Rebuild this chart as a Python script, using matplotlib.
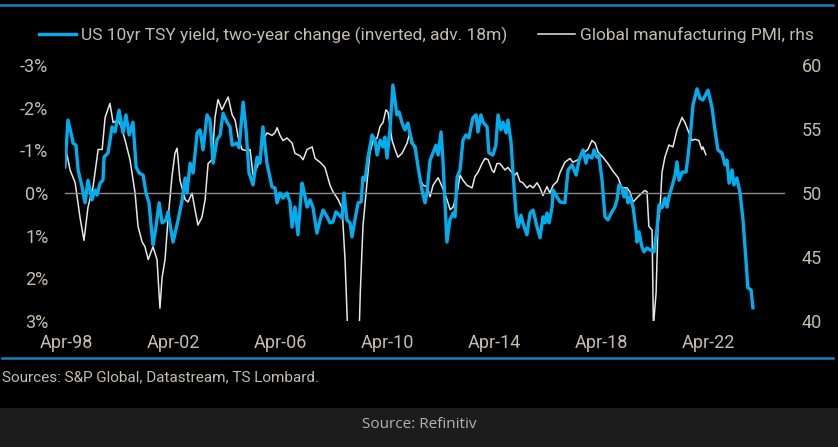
import matplotlib
matplotlib.use("Agg")
import matplotlib.pyplot as plt
from matplotlib.lines import Line2D
import numpy as np

# US 10yr yield, two-year change (inverted, advanced 18m), % -- decimal year
yld_t = [1998.21, 1998.32, 1998.47, 1998.51, 1998.62, 1998.70, 1998.85, 1998.96,
         1999.07, 1999.22, 1999.33, 1999.41, 1999.52, 1999.63, 1999.67, 1999.82,
         1999.97, 2000.08, 2000.23, 2000.38, 2000.49, 2000.61, 2000.75, 2000.87,
         2000.98, 2001.13, 2001.24, 2001.35, 2001.50, 2001.61, 2001.73, 2001.84,
         2001.99, 2002.06, 2002.25, 2002.44, 2002.59, 2002.70, 2002.77, 2002.89,
         2003.00, 2003.15, 2003.26, 2003.37, 2003.52, 2003.63, 2003.75, 2003.89,
         2004.01, 2004.12, 2004.27, 2004.38, 2004.46, 2004.64, 2004.72, 2004.87,
         2004.98, 2005.09, 2005.24, 2005.39, 2005.50, 2005.61, 2005.76, 2005.95,
         2006.06, 2006.14, 2006.25, 2006.36, 2006.51, 2006.62, 2006.70, 2006.81,
         2006.92, 2007.07, 2007.11, 2007.26, 2007.37, 2007.48, 2007.63, 2007.75,
         2007.86, 2008.01, 2008.12, 2008.23, 2008.34, 2008.46, 2008.57, 2008.64,
         2008.75, 2008.87, 2008.94, 2009.05, 2009.17, 2009.28, 2009.35, 2009.43,
         2009.54, 2009.69, 2009.80, 2009.88, 2009.99, 2010.10, 2010.17, 2010.25,
         2010.36, 2010.47, 2010.62, 2010.70, 2010.81, 2010.92, 2011.03, 2011.18,
         2011.30, 2011.41, 2011.56, 2011.67, 2011.74, 2011.86, 2011.97, 2012.08,
         2012.16, 2012.27, 2012.34, 2012.42, 2012.49, 2012.60, 2012.72, 2012.79,
         2012.87, 2012.98, 2013.09, 2013.20, 2013.31, 2013.46, 2013.58, 2013.65,
         2013.76, 2013.84, 2013.99, 2014.06, 2014.21, 2014.32, 2014.40, 2014.51,
         2014.59, 2014.70, 2014.77, 2014.89, 2014.96, 2015.07, 2015.15, 2015.26,
         2015.33, 2015.48, 2015.60, 2015.71, 2015.86, 2015.97, 2016.08, 2016.16,
         2016.23, 2016.31, 2016.42, 2016.46, 2016.60, 2016.72, 2016.90, 2017.02,
         2017.17, 2017.32, 2017.43, 2017.58, 2017.69, 2017.76, 2017.91, 2017.99,
         2018.10, 2018.17, 2018.29, 2018.40, 2018.51, 2018.66, 2018.77, 2018.85,
         2018.92, 2019.03, 2019.11, 2019.18, 2019.26, 2019.33, 2019.45, 2019.56,
         2019.60, 2019.67, 2019.78, 2019.86, 2019.97, 2020.08, 2020.23, 2020.34,
         2020.42, 2020.53, 2020.64, 2020.72, 2020.79, 2020.94, 2021.02, 2021.09,
         2021.17, 2021.28, 2021.43, 2021.50, 2021.62, 2021.69, 2021.84, 2021.95,
         2022.06, 2022.25, 2022.40, 2022.51, 2022.62, 2022.77, 2022.89, 2022.96,
         2023.04, 2023.15, 2023.22, 2023.33, 2023.45, 2023.56, 2023.67, 2023.74,
         2023.86, 2023.93]
yld_v = [-0.61, -1.71, -1.31, -1.17, -1.12, -0.54, -0.14, 0.23,
         -0.30, 0.16, -0.07, 0.05, -0.23, -0.30, -0.84, -0.94,
         -1.55, -1.43, -1.94, -1.41, -1.83, -1.36, -1.66, -0.61,
         -0.47, -0.42, 0.00, 0.23, 1.22, 0.80, 0.23, 0.70,
         0.63, 0.44, 1.15, 0.63, 0.16, -0.35, 0.00, -0.70,
         -0.47, -1.41, -1.48, -1.01, -1.83, -1.71, -0.70, -1.24,
         -1.36, -1.87, -1.66, -1.55, -1.12, -1.17, -1.06, -2.13,
         -1.48, -0.47, -0.19, -0.84, -0.70, -1.55, -0.70, -0.14,
         -0.12, 0.23, 0.00, 0.12, 0.00, 0.21, 0.80, 0.33,
         0.98, -0.23, -0.14, 0.33, 0.16, 0.33, 0.94, 0.63,
         0.40, 0.56, 0.70, 0.68, 0.44, 0.52, 0.59, 0.00,
         0.63, 0.70, 1.03, 0.63, 0.23, 0.21, -0.37, -0.30,
         -0.84, -1.36, -1.24, -0.89, -1.24, -1.08, -1.31, -0.82,
         -1.48, -2.53, -1.83, -1.90, -1.64, -1.48, -1.64, -1.17,
         -1.08, -0.61, -0.07, 0.23, 0.00, -0.77, -0.94, -1.12,
         -0.89, -1.43, -0.77, 0.23, 1.15, 0.63, 0.47, 0.56,
         -0.37, -0.54, -1.24, -1.36, -1.29, -1.76, -1.83, -1.43,
         -1.83, -1.66, -1.55, -0.94, -0.89, -1.12, -1.83, -1.48,
         -1.66, -1.41, -1.71, -1.17, -0.47, 0.47, 0.80, 0.52,
         0.70, 0.98, 0.47, 0.40, 0.80, 1.05, 0.56, 0.70,
         0.47, 0.70, 0.33, -0.07, 0.09, 0.21, 0.23, -0.54,
         -0.66, -0.42, -0.77, -1.01, -0.70, -0.89, -0.82, -1.01,
         -0.84, -0.89, -0.30, 0.56, 0.63, 0.44, 0.33, 0.16,
         -0.19, -0.12, 0.09, -0.07, 0.23, 0.09, 0.33, 0.87,
         1.15, 0.91, 1.26, 1.38, 1.29, 1.33, 1.38, 0.87,
         0.28, 0.35, 0.12, 0.33, 0.09, -0.23, -0.42, -0.73,
         -0.30, -0.49, -0.49, -0.84, -1.55, -2.06, -2.44, -2.22,
         -2.18, -2.41, -2.01, -1.48, -1.01, -0.94, -0.66, -0.77,
         -0.23, -0.54, -0.19, -0.35, 0.00, 0.63, 1.57, 2.22,
         2.27, 2.69]

# Global manufacturing PMI (rhs) -- decimal year
pmi_t = [1998.21, 1998.40, 1998.59, 1998.77, 1998.92, 1999.07, 1999.26, 1999.45,
         1999.60, 1999.71, 1999.89, 2000.01, 2000.19, 2000.31, 2000.46, 2000.64,
         2000.83, 2000.94, 2001.09, 2001.20, 2001.32, 2001.50, 2001.65, 2001.76,
         2001.84, 2001.95, 2002.06, 2002.21, 2002.32, 2002.40, 2002.51, 2002.70,
         2002.81, 2002.96, 2003.07, 2003.18, 2003.33, 2003.45, 2003.56, 2003.71,
         2003.82, 2003.93, 2004.08, 2004.19, 2004.31, 2004.46, 2004.57, 2004.68,
         2004.83, 2005.02, 2005.13, 2005.24, 2005.39, 2005.50, 2005.61, 2005.76,
         2005.95, 2006.06, 2006.14, 2006.25, 2006.36, 2006.51, 2006.70, 2006.81,
         2007.00, 2007.11, 2007.26, 2007.45, 2007.56, 2007.75, 2007.93, 2008.12,
         2008.23, 2008.42, 2008.57, 2008.68, 2008.80, 2008.88, 2009.00, 2009.10,
         2009.20, 2009.25, 2009.35, 2009.50, 2009.61, 2009.73, 2009.88, 2009.99,
         2010.10, 2010.21, 2010.29, 2010.44, 2010.55, 2010.66, 2010.81, 2011.00,
         2011.11, 2011.22, 2011.37, 2011.48, 2011.60, 2011.75, 2011.86, 2011.97,
         2012.16, 2012.31, 2012.49, 2012.61, 2012.72, 2012.87, 2012.98, 2013.09,
         2013.24, 2013.43, 2013.54, 2013.65, 2013.80, 2013.91, 2014.03, 2014.17,
         2014.25, 2014.36, 2014.47, 2014.66, 2014.77, 2014.92, 2015.03, 2015.11,
         2015.22, 2015.33, 2015.48, 2015.59, 2015.71, 2015.86, 2015.97, 2016.08,
         2016.23, 2016.34, 2016.46, 2016.61, 2016.72, 2016.90, 2017.09, 2017.20,
         2017.39, 2017.58, 2017.76, 2017.91, 2018.03, 2018.14, 2018.32, 2018.51,
         2018.70, 2018.89, 2019.03, 2019.22, 2019.33, 2019.45, 2019.63, 2019.78,
         2019.89, 2019.97, 2020.04, 2020.16, 2020.21, 2020.31, 2020.38, 2020.46,
         2020.53, 2020.64, 2020.79, 2020.94, 2021.09, 2021.28, 2021.39, 2021.50,
         2021.65, 2021.76, 2021.91, 2022.02, 2022.06, 2022.17]
pmi_v = [53.75, 51.8, 50.8, 48.1, 46.3, 48.9, 50.5, 53.4,
         53.4, 55.9, 57.0, 55.5, 55.7, 55.2, 54.1, 52.6,
         50.0, 47.4, 46.2, 45.8, 44.8, 45.8, 44.8, 41.0,
         43.4, 44.8, 47.9, 51.3, 53.1, 53.5, 51.0, 49.5,
         49.3, 50.0, 48.7, 47.5, 48.1, 49.5, 52.3, 52.6,
         55.9, 57.3, 56.5, 57.0, 57.5, 56.1, 55.7, 54.4,
         53.4, 53.3, 53.4, 51.4, 52.0, 52.8, 54.1, 54.7,
         54.5, 54.7, 55.1, 54.5, 54.1, 54.3, 53.9, 53.1,
         52.9, 52.6, 53.4, 53.6, 52.7, 52.4, 52.0, 50.6,
         50.1, 49.5, 48.8, 44.8, 38.0, 34.5, 33.7, 34.9,
         38.5, 42.2, 47.4, 50.8, 53.1, 54.1, 54.3, 55.2,
         55.5, 56.5, 56.3, 54.1, 53.4, 52.8, 53.1, 53.9,
         54.8, 53.9, 52.8, 51.1, 50.6, 50.5, 49.7, 50.6,
         51.2, 50.5, 49.5, 48.7, 48.9, 50.0, 51.4, 51.0,
         50.6, 50.4, 51.3, 51.6, 52.3, 52.7, 52.6, 51.8,
         51.6, 52.3, 52.3, 51.8, 52.0, 51.6, 51.4, 51.6,
         50.9, 50.8, 50.4, 50.6, 50.4, 50.8, 50.4, 49.8,
         50.5, 50.0, 50.6, 50.9, 51.6, 52.4, 52.7, 52.4,
         52.6, 53.1, 53.4, 54.1, 53.9, 53.2, 52.8, 52.3,
         51.7, 51.2, 50.4, 50.4, 50.1, 49.3, 49.7, 50.0,
         50.2, 50.1, 47.4, 47.1, 39.6, 42.2, 47.4, 48.9,
         51.6, 52.8, 53.75, 53.6, 54.9, 55.9, 55.5, 54.9,
         54.1, 54.2, 54.1, 53.4, 53.6, 53.0]

tick_years = [1998.25, 2002.25, 2006.25, 2010.25, 2014.25, 2018.25, 2022.25]
tick_labels = ["Apr-98", "Apr-02", "Apr-06", "Apr-10", "Apr-14", "Apr-18", "Apr-22"]
left_ticks = [-3, -2, -1, 0, 1, 2, 3]
right_ticks = [60, 55, 50, 45, 40]

BLUE = "#00aeef"
RULE = "#1682bd"
TXT = "#c4bcae"
plt.rcParams["font.family"] = ["Roboto", "DejaVu Sans"]

fig = plt.figure(figsize=(8.38, 4.47), dpi=100, facecolor="black")
ax = fig.add_axes([65 / 838, 1 - 321 / 447, 720 / 838, 256 / 447])
ax.set_facecolor("black")
ax2 = ax.twinx()

ax.axhline(0, color="#8a8a8a", lw=1.0, zorder=1)
ax2.plot(pmi_t, pmi_v, color="#e6e6e6", lw=1.1, zorder=2)
ax.plot(yld_t, yld_v, color=BLUE, lw=2.4, zorder=3)
ax.set_zorder(ax2.get_zorder() + 1)
ax.patch.set_visible(False)
ax2.set_facecolor("black")

ax.set_xlim(1998.21, 2025.13)
ax.set_ylim(3, -3)
ax2.set_ylim(40, 60)
ax.set_xticks(tick_years)
ax.set_xticklabels(tick_labels)
ax.set_yticks(left_ticks)
ax.set_yticklabels([f"{v}%" for v in left_ticks])
ax2.set_yticks(right_ticks)
ax2.set_yticklabels([str(v) for v in right_ticks])

for a in (ax, ax2):
    for s in a.spines.values():
        s.set_visible(False)
    a.tick_params(length=0, colors=TXT, labelsize=13)
ax.tick_params(axis="x", pad=9)
ax.tick_params(axis="y", pad=12)
ax2.tick_params(axis="y", pad=12)

handles = [Line2D([], [], color=BLUE, lw=2.4),
           Line2D([], [], color="#e6e6e6", lw=1.1)]
labels = ["US 10yr TSY yield, two-year change (inverted, adv. 18m)",
          "Global manufacturing PMI, rhs"]
fig.legend(handles, labels, loc="center", bbox_to_anchor=(0.509, 1 - 35 / 447),
           ncol=2, frameon=False, fontsize=12.5, labelcolor=TXT,
           handlelength=2.1, handletextpad=0.3, columnspacing=1.8)

# header / footer rules
fig.add_artist(Line2D([0, 833 / 838], [1 - 5 / 447] * 2, color=RULE, lw=1.8))
fig.add_artist(Line2D([2 / 838, 833 / 838], [1 - 357.5 / 447] * 2, color=RULE, lw=1.8))

fig.text(2 / 838, 1 - 377 / 447, "Sources: S&P Global, Datastream, TS Lombard.",
         color=TXT, fontsize=11, va="center", ha="left")

fig.patches.append(plt.Rectangle((0, 0), 1, 39 / 447, transform=fig.transFigure,
                                 facecolor="#1c1c1c", edgecolor="none"))
fig.text(0.5, 1 - 425 / 447, "Source: Refinitiv", color="#b4b4b4",
         fontsize=11, ha="center", va="center", family=["Open Sans", "DejaVu Sans"])

fig.savefig("out.png", dpi=100, facecolor="black")
